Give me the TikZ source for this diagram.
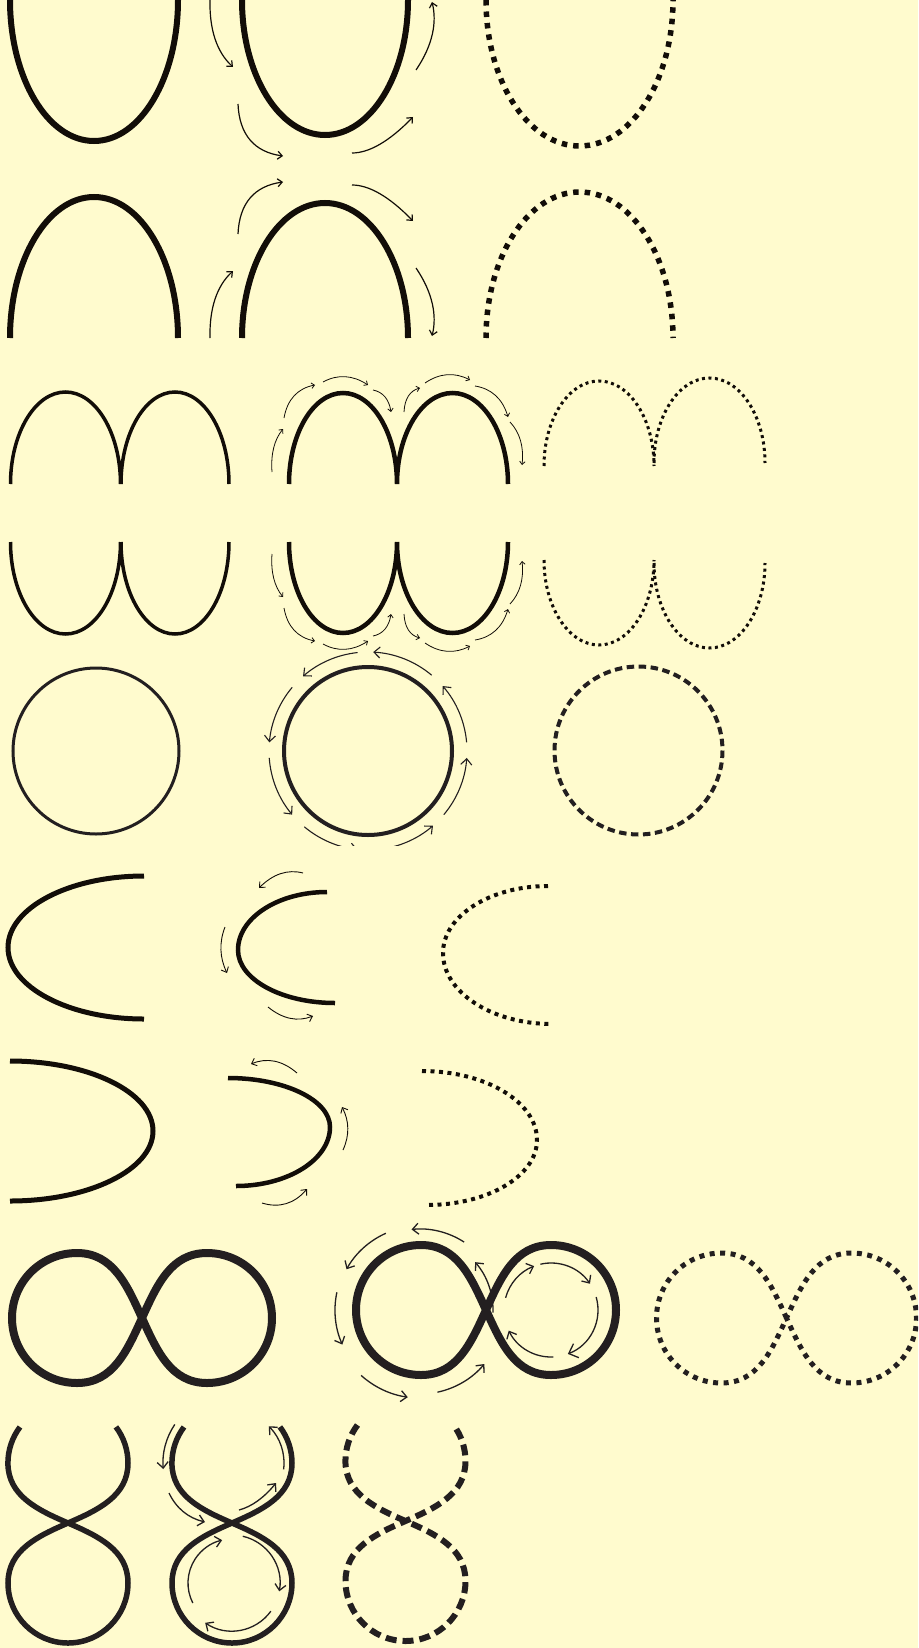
\documentclass[tikz,border=0pt]{standalone}
\usetikzlibrary{arrows.meta, calc}
\definecolor{paper}{RGB}{255,251,206}
\definecolor{ink}{RGB}{18,13,8}
\definecolor{inkgray}{RGB}{35,31,32}
\tikzset{
  loopline/.style={draw=ink, line width=#1},
  grayline/.style={draw=inkgray, line width=#1},
  dotline/.style 2 args={draw=ink, line width=#1, dash pattern=on #1 off #2},
  dashline/.style n args={3}{draw=inkgray, line width=#1, dash pattern=on #2 off #3},
  flow/.style={draw=ink, line width=1.2pt, -{Straight Barb[length=4.5pt,width=8pt]}},
  smallflow/.style={draw=ink, line width=0.8pt, -{Straight Barb[length=3pt,width=5.5pt]}},
  bigflow/.style={draw=inkgray, line width=1.3pt, -{Straight Barb[length=6pt,width=11pt]}},
  widehead/.style={-{Straight Barb[length=8pt,width=15pt]}},
}
% bent arrow from #2 to #4 pulled towards #3
\newcommand{\bentflow}[4]{\draw[#1] (#2) .. controls ($(#2)!0.667!(#3)$) and ($(#4)!0.667!(#3)$) .. (#4);}
% lying eight, crossing at the origin
\newcommand{\infinitypath}{(0,0) .. controls (-15,-33) and (-29,-65) .. (-65,-65)
  .. controls (-101,-65) and (-130,-36) .. (-130,0)
  .. controls (-130,36) and (-101,65) .. (-65,65)
  .. controls (-29,65) and (-15,33) .. (0,0)
  .. controls (15,-33) and (29,-65) .. (65,-65)
  .. controls (101,-65) and (130,-36) .. (130,0)
  .. controls (130,36) and (101,65) .. (65,65)
  .. controls (29,65) and (15,33) .. cycle}
% standing eight, open at the top
\newcommand{\eightpath}{(-48,-96) arc[start angle=217, end angle=180, radius=60]
  .. controls (-60,-27) and (-30,-13) .. (0,0)
  .. controls (30,13) and (60,27) .. (60,60)
  .. controls (60,93) and (33,120) .. (0,120)
  .. controls (-33,120) and (-60,93) .. (-60,60)
  .. controls (-60,27) and (-30,13) .. (0,0)
  .. controls (30,-13) and (60,-27) .. (60,-60)
  arc[start angle=0, end angle=-37, radius=60]}

\begin{document}
\begin{tikzpicture}[x=1pt, y=-1pt]
  \useasboundingbox (0,0) rectangle (918,1648);
  \clip (0,0) rectangle (918,1648);
  \fill[paper] (0,0) rectangle (918,1648);

  % U and cap, mirrored about y=169
  \foreach \flip/\dy in {1/0,-1/338} {
    \begin{scope}[shift={(0,\dy)}, yscale=\flip]
      \draw[loopline=6pt] (10,0) arc[start angle=180, end angle=0, x radius=84, y radius=141];
      \draw[loopline=6pt] (242,0) arc[start angle=180, end angle=0, x radius=83, y radius=135];
      \draw[dotline={5.5pt}{6pt}] (486,0) arc[start angle=180, end angle=0, x radius=93.5, y radius=146];
      \bentflow{flow}{210,0}{209,45}{233,67}
      \bentflow{flow}{238,104}{240,150}{283,156}
      \bentflow{flow}{352,153}{378,153}{413,117}
      \draw[flow] (416,70) .. controls (433,45) and (437,22) .. (432,2);
    \end{scope}
  }

  % m and w, mirrored about y=513
  \foreach \flip/\dy in {1/0,-1/1026} {
    \begin{scope}[shift={(0,\dy)}, yscale=\flip]
      \draw[loopline=3.5pt] (10.5,484) arc[start angle=180, end angle=360, x radius=55, y radius=92]
        (121,484) arc[start angle=180, end angle=360, x radius=54, y radius=92];
      \draw[loopline=4.5pt] (289,484) arc[start angle=180, end angle=360, x radius=54, y radius=91]
        (397,484) arc[start angle=180, end angle=360, x radius=55.5, y radius=91];
      \draw[dotline={3pt}{3.5pt}] (544,466) arc[start angle=180, end angle=360, x radius=55, y radius=85]
        (654,463) arc[start angle=180, end angle=360, x radius=55.5, y radius=85];
      \foreach \s/\c/\e in {{272,472}/{270,445}/{283,429}, {284,418}/{289,390}/{315,385},
          {323,382}/{345,370}/{368,385}, {373,390}/{388,393}/{391,412},
          {404,412}/{405,392}/{420,388}, {425,383}/{447,368}/{470,380},
          {475,386}/{500,390}/{508,417}, {510,422}/{525,438}/{522,465}}
        {\bentflow{smallflow}{\s}{\c}{\e}}
    \end{scope}
  }

  % circles
  \draw[grayline=3pt] (96,751) circle[radius=83];
  \draw[grayline=4pt] (368,751) circle[radius=84];
  \draw[dashline={4pt}{7.5pt}{4.5pt}] (638.5,750.5) circle[radius=84];
  \begin{scope}
    \clip (0,640) rectangle (918,845);
    \foreach \a/\b in {310/273, 264/229, 220/185, 176/140, 130/96, 81/49, 40/4, -5/-41}
      \draw[bigflow, line width=1.1pt] (368,751) ++(\a:99) arc[start angle=\a, end angle=\b, radius=99];
  \end{scope}

  % C shapes
  \draw[loopline=5pt] (144,876) arc[start angle=270, end angle=90, x radius=136, y radius=71.5];
  \draw[loopline=4.5pt] (327,892) arc[start angle=270, end angle=180, x radius=89, y radius=58]
    arc[start angle=180, end angle=90, x radius=97, y radius=53];
  \draw[dotline={4pt}{4.5pt}] (548,886) arc[start angle=270, end angle=180, x radius=105, y radius=67]
    arc[start angle=180, end angle=90, x radius=109, y radius=71];
  \bentflow{flow, line width=0.9pt}{303,873}{280,867}{259,888}
  \bentflow{flow, line width=0.9pt}{225,927}{216,950}{227,973}
  \bentflow{flow, line width=0.9pt}{268,1007}{290,1025}{313,1016}

  % D shapes
  \draw[loopline=5pt] (10,1061) arc[start angle=-90, end angle=90, x radius=143, y radius=70];
  \draw[loopline=4.5pt] (228,1078) arc[start angle=-90, end angle=0, x radius=102, y radius=49]
    arc[start angle=0, end angle=90, x radius=94, y radius=59];
  \draw[dotline={4pt}{4.5pt}] (422,1071) arc[start angle=-90, end angle=0, x radius=115, y radius=69]
    arc[start angle=0, end angle=90, x radius=110, y radius=65];
  \bentflow{flow, line width=0.9pt}{297,1073}{275,1054}{251,1064}
  \bentflow{flow, line width=0.9pt}{343,1150}{353,1128}{342,1107}
  \bentflow{flow, line width=0.9pt}{262,1203}{288,1211}{307,1189}

  % lying eights
  \draw[grayline=8pt, shift={(142,1318)}] \infinitypath;
  \draw[grayline=8pt, shift={(486,1310)}] \infinitypath;
  \draw[dotline={5pt}{5.5pt}, draw=inkgray, shift={(786.5,1318)}] \infinitypath;
  \foreach \a/\b/\r in {303/264/81, 246/209/84, 192/156/85, 132/98/88, 78/40/84, 2/-41/73}
    \draw[bigflow] (420,1310) ++(\a:\r) arc[start angle=\a, end angle=\b, radius=\r];
  \foreach \a/\b in {195/249, 257/326, 87/154}
    \draw[bigflow] (551,1310) ++(\a:47) arc[start angle=\a, end angle=\b, radius=47];
  \draw[bigflow, widehead] (551,1310) ++(344:47) arc[start angle=344, end angle=429, radius=47];

  % standing eights
  \draw[grayline=5.5pt, shift={(68,1523)}] \eightpath;
  \draw[grayline=5.5pt, shift={(232,1523)}] \eightpath;
  \draw[dashline={6pt}{11pt}{6pt}, shift={(405.5,1521)}] \eightpath;
  \draw[bigflow] (232,1463) ++(214:69) arc[start angle=214, end angle=175, radius=69];
  \bentflow{bigflow}{169,1493}{180,1516}{205,1522}
  \bentflow{bigflow}{239,1510}{258,1505}{276,1483}
  \draw[bigflow] (232,1463) ++(7:52) arc[start angle=7, end angle=-45, radius=52];
  \draw[bigflow] (232,1583) ++(153:44) arc[start angle=153, end angle=257, radius=44];
  \draw[bigflow] (232,1583) ++(283:48) arc[start angle=283, end angle=370, radius=48];
  \draw[bigflow] (232,1583) ++(36:48) arc[start angle=36, end angle=124, radius=48];
\end{tikzpicture}
\end{document}
